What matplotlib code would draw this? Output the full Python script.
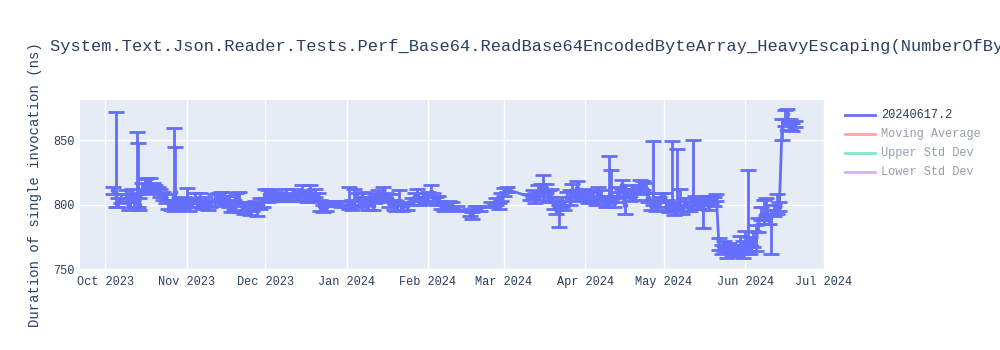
import matplotlib
matplotlib.use("Agg")
import matplotlib.pyplot as plt
import matplotlib.dates as mdates
from matplotlib.lines import Line2D
import pandas as pd

# ---------------- data ----------------
dates = [
    "2023-10-04", "2023-10-05", "2023-10-06", "2023-10-07", "2023-10-09", "2023-10-10",
    "2023-10-11", "2023-10-12", "2023-10-13", "2023-10-13 12:00", "2023-10-14", "2023-10-15",
    "2023-10-16", "2023-10-17", "2023-10-18", "2023-10-19", "2023-10-20", "2023-10-21",
    "2023-10-22", "2023-10-23", "2023-10-24", "2023-10-25", "2023-10-26", "2023-10-27",
    "2023-10-27 12:00", "2023-10-28", "2023-10-29", "2023-10-30", "2023-10-31",
    "2023-11-01", "2023-11-02", "2023-11-03", "2023-11-04", "2023-11-05", "2023-11-06",
    "2023-11-07", "2023-11-08", "2023-11-09", "2023-11-10", "2023-11-12", "2023-11-13",
    "2023-11-14", "2023-11-15", "2023-11-16", "2023-11-17", "2023-11-18", "2023-11-19",
    "2023-11-20", "2023-11-21", "2023-11-22", "2023-11-23", "2023-11-24", "2023-11-25",
    "2023-11-26", "2023-11-27", "2023-11-28", "2023-11-29", "2023-11-30",
    "2023-12-01", "2023-12-02", "2023-12-03", "2023-12-04", "2023-12-05", "2023-12-06",
    "2023-12-07", "2023-12-08", "2023-12-09", "2023-12-10", "2023-12-12", "2023-12-13",
    "2023-12-14", "2023-12-15", "2023-12-16", "2023-12-17", "2023-12-18", "2023-12-19",
    "2023-12-20", "2023-12-21", "2023-12-22", "2023-12-23", "2023-12-24", "2023-12-26",
    "2023-12-28", "2023-12-30",
    "2024-01-01", "2024-01-02", "2024-01-03", "2024-01-04", "2024-01-05", "2024-01-06",
    "2024-01-07", "2024-01-08", "2024-01-09", "2024-01-10", "2024-01-11", "2024-01-12",
    "2024-01-13", "2024-01-14", "2024-01-15", "2024-01-16", "2024-01-17", "2024-01-18",
    "2024-01-19", "2024-01-20", "2024-01-21", "2024-01-22", "2024-01-24", "2024-01-26",
    "2024-01-27", "2024-01-28", "2024-01-29", "2024-01-30", "2024-01-31",
    "2024-02-01", "2024-02-02", "2024-02-03", "2024-02-04", "2024-02-05", "2024-02-06",
    "2024-02-07", "2024-02-08", "2024-02-09", "2024-02-10", "2024-02-12", "2024-02-17",
    "2024-02-18", "2024-02-19", "2024-02-21", "2024-02-25", "2024-02-27", "2024-02-28",
    "2024-02-29",
    "2024-03-01", "2024-03-02", "2024-03-11", "2024-03-12", "2024-03-13", "2024-03-14",
    "2024-03-15", "2024-03-16", "2024-03-17", "2024-03-18", "2024-03-19", "2024-03-20",
    "2024-03-21", "2024-03-22", "2024-03-23", "2024-03-24", "2024-03-25", "2024-03-26",
    "2024-03-27", "2024-03-28", "2024-03-29", "2024-03-30", "2024-03-31",
    "2024-04-01", "2024-04-02", "2024-04-03", "2024-04-04", "2024-04-05", "2024-04-06",
    "2024-04-07", "2024-04-08", "2024-04-09", "2024-04-10", "2024-04-11", "2024-04-12",
    "2024-04-13", "2024-04-14", "2024-04-15", "2024-04-16", "2024-04-17", "2024-04-18",
    "2024-04-19", "2024-04-20", "2024-04-21", "2024-04-22", "2024-04-23", "2024-04-24",
    "2024-04-25", "2024-04-26", "2024-04-27", "2024-04-28", "2024-04-29", "2024-04-30",
    "2024-05-01", "2024-05-02", "2024-05-03", "2024-05-04", "2024-05-05", "2024-05-06",
    "2024-05-07", "2024-05-08", "2024-05-09", "2024-05-10", "2024-05-11", "2024-05-12",
    "2024-05-13", "2024-05-14", "2024-05-15", "2024-05-16", "2024-05-17", "2024-05-18",
    "2024-05-19", "2024-05-20", "2024-05-21", "2024-05-22", "2024-05-23", "2024-05-24",
    "2024-05-25", "2024-05-26", "2024-05-27", "2024-05-28", "2024-05-29", "2024-05-30",
    "2024-05-31",
    "2024-06-01", "2024-06-02", "2024-06-03", "2024-06-04", "2024-06-05", "2024-06-06",
    "2024-06-07", "2024-06-08", "2024-06-09", "2024-06-10", "2024-06-11", "2024-06-12",
    "2024-06-13", "2024-06-14", "2024-06-15", "2024-06-16", "2024-06-17", "2024-06-18",
    "2024-06-19", "2024-06-20",
]

values = [
    811, 808, 802, 804, 805, 800,
    808, 803, 806, 808, 800, 811,
    815, 813, 816, 813, 812, 811,
    809, 807, 804, 801, 799, 806,
    810, 800, 798, 801, 800,
    803, 799, 801, 805, 801, 804,
    800, 802, 799, 801, 803, 806,
    804, 808, 803, 801, 797, 799,
    806, 802, 799, 796, 799, 795,
    798, 800, 796, 800, 803,
    808, 806, 809, 806, 808, 806,
    807, 805, 807, 806, 808, 806,
    807, 810, 806, 805, 808, 806,
    808, 806, 799, 796, 798, 801,
    801, 800,
    800, 801, 800, 803, 806, 801,
    806, 803, 800, 805, 799, 804,
    808, 806, 809, 806, 801, 805,
    800, 798, 803, 798, 799, 802,
    806, 808, 803, 806, 804,
    807, 810, 806, 803, 805, 800,
    797, 799, 801, 799, 797, 794,
    791, 797, 797, 800, 803, 799,
    806,
    810, 812, 806, 808, 805, 810,
    812, 808, 813, 806, 809, 800,
    797, 796, 801, 799, 806, 803,
    810, 807, 813, 806, 808,
    806, 804, 807, 805, 803, 808,
    806, 803, 801, 805, 807, 801,
    806, 810, 815, 800, 809, 806,
    812, 807, 811, 816, 814, 812,
    805, 800, 803, 798, 801, 806,
    806, 800, 797, 803, 796, 802,
    799, 796, 801, 798, 797, 804,
    803, 800, 801, 797, 803, 800,
    804, 802, 806, 768, 765, 768,
    762, 766, 764, 766, 763, 768,
    762,
    766, 770, 765, 772, 768, 785,
    792, 790, 795, 788, 792, 795,
    800, 798, 858, 865, 870, 862,
    860, 863,
]

err_plus = [
    3, 64, 3, 4, 6, 8,
    4, 6, 50, 40, 5, 6,
    5, 8, 5, 4, 3, 3,
    3, 3, 4, 3, 5, 53,
    35, 3, 4, 4, 6,
    10, 5, 4, 4, 3, 5,
    3, 4, 4, 3, 5, 3,
    6, 2, 4, 6, 3, 5,
    3, 8, 3, 4, 3, 4,
    3, 3, 3, 5, 2,
    4, 5, 3, 3, 2, 3,
    2, 3, 5, 3, 4, 2,
    3, 5, 5, 3, 7, 3,
    4, 3, 5, 4, 3, 2,
    2, 3,
    3, 13, 4, 9, 3, 3,
    4, 3, 4, 4, 6, 3,
    3, 2, 5, 3, 3, 3,
    4, 5, 8, 3, 3, 3,
    3, 4, 3, 3, 2,
    3, 5, 3, 3, 2, 3,
    3, 3, 2, 3, 2, 3,
    3, 2, 2, 2, 2, 2,
    3,
    3, 2, 2, 3, 4, 5,
    4, 15, 3, 5, 3, 4,
    5, 4, 5, 4, 4, 8,
    6, 4, 5, 3, 4,
    3, 3, 4, 5, 4, 6,
    5, 4, 4, 33, 20, 4,
    4, 4, 4, 10, 3, 4,
    3, 3, 4, 3, 4, 5,
    4, 4, 46, 4, 5, 3,
    3, 4, 5, 46, 4, 41,
    13, 4, 4, 5, 3, 46,
    4, 4, 3, 8, 4, 5,
    3, 4, 2, 6, 4, 4,
    4, 4, 3, 3, 5, 8,
    10,
    14, 57, 10, 8, 16, 5,
    6, 14, 10, 5, 4, 5,
    8, 4, 8, 8, 4, 4,
    3, 2,
]

err_minus = [
    3, 10, 4, 3, 3, 4,
    6, 5, 8, 10, 4, 3,
    4, 3, 3, 3, 3, 3,
    3, 3, 3, 4, 3, 11,
    8, 3, 2, 3, 4,
    5, 4, 3, 4, 3, 3,
    3, 3, 3, 3, 4, 3,
    3, 4, 3, 3, 3, 3,
    4, 3, 5, 3, 3, 3,
    3, 2, 5, 3, 5,
    3, 4, 3, 3, 3, 2,
    3, 2, 3, 3, 2, 3,
    3, 3, 2, 3, 3, 4,
    2, 3, 4, 2, 3, 2,
    2, 2,
    2, 4, 4, 3, 3, 3,
    3, 3, 4, 3, 3, 3,
    4, 3, 3, 3, 3, 3,
    4, 3, 3, 3, 3, 2,
    3, 3, 3, 3, 3,
    4, 3, 4, 3, 3, 3,
    2, 3, 3, 3, 2, 3,
    2, 2, 2, 2, 3, 2,
    3,
    3, 2, 2, 3, 4, 3,
    3, 4, 3, 4, 3, 3,
    4, 13, 3, 3, 3, 3,
    4, 3, 3, 3, 3,
    3, 3, 3, 4, 3, 4,
    3, 3, 3, 3, 3, 3,
    4, 3, 3, 7, 3, 3,
    3, 3, 3, 3, 3, 3,
    3, 4, 3, 3, 3, 3,
    3, 4, 3, 5, 4, 6,
    4, 3, 3, 3, 2, 5,
    3, 3, 4, 15, 3, 4,
    3, 3, 3, 3, 3, 4,
    3, 3, 3, 3, 3, 3,
    3,
    4, 6, 3, 5, 4, 6,
    4, 5, 4, 3, 30, 4,
    7, 3, 8, 4, 4, 4,
    3, 3,
]

legend_labels = ["20240617.2", "Moving Average", "Upper Std Dev", "Lower Std Dev"]
legend_colors = ["#636efa", "#EF553B", "#00cc96", "#ab63fa"]
legend_visible = [True, False, False, False]

title = ("System.Text.Json.Reader.Tests.Perf_Base64."
         "ReadBase64EncodedByteArray_HeavyEscaping(NumberOfBytes: 65520)")
y_label = "Duration of single invocation (ns)"

# ---------------- plotting ----------------
FONT = ["Liberation Mono", "DejaVu Sans Mono"]
TXT = "#2a3f5f"
plt.rcParams["font.family"] = FONT

x = pd.to_datetime(dates, format="mixed")

fig = plt.figure(figsize=(10, 3.5), dpi=100)
ax = fig.add_axes([0.08, 1 - 270 / 350, 0.745, 170 / 350])
ax.set_facecolor("#e5ecf6")
for s in ax.spines.values():
    s.set_visible(False)

ax.errorbar(x, values, yerr=[err_minus, err_plus], fmt="-",
            color=legend_colors[0], lw=2, elinewidth=2, capsize=6, capthick=2,
            zorder=3, marker="o", markersize=3)

ax.set_ylim(749.5, 881)
ax.set_yticks([750, 800, 850])
ax.set_xlim(pd.Timestamp("2023-09-21 08:00"), pd.Timestamp("2024-07-01 10:00"))
ax.xaxis.set_major_locator(mdates.MonthLocator())
ax.xaxis.set_major_formatter(mdates.DateFormatter("%b %Y"))
ax.grid(True, color="white", lw=1)
ax.set_axisbelow(True)
ax.tick_params(length=0, labelsize=8.6, labelcolor=TXT, pad=4)

fig.text(0.035, 1 - 185 / 350, y_label, rotation=90, ha="center", va="center",
         fontsize=10, color=TXT)

fig.text(0.05, 1 - 47 / 350, title, ha="left", va="center", fontsize=12.25, color=TXT)

# legend
row_y = [115, 134, 153, 172]
for lbl, col, vis, ry in zip(legend_labels, legend_colors, legend_visible, row_y):
    a = 1.0 if vis else 0.5
    yy = 1 - ry / 350
    fig.add_artist(Line2D([0.845, 0.875], [yy, yy], transform=fig.transFigure,
                          color=col, lw=2, alpha=a))
    fig.text(0.881, yy, lbl, ha="left", va="center", fontsize=8.6, color=TXT, alpha=a)

fig.savefig("out.png", dpi=100)
